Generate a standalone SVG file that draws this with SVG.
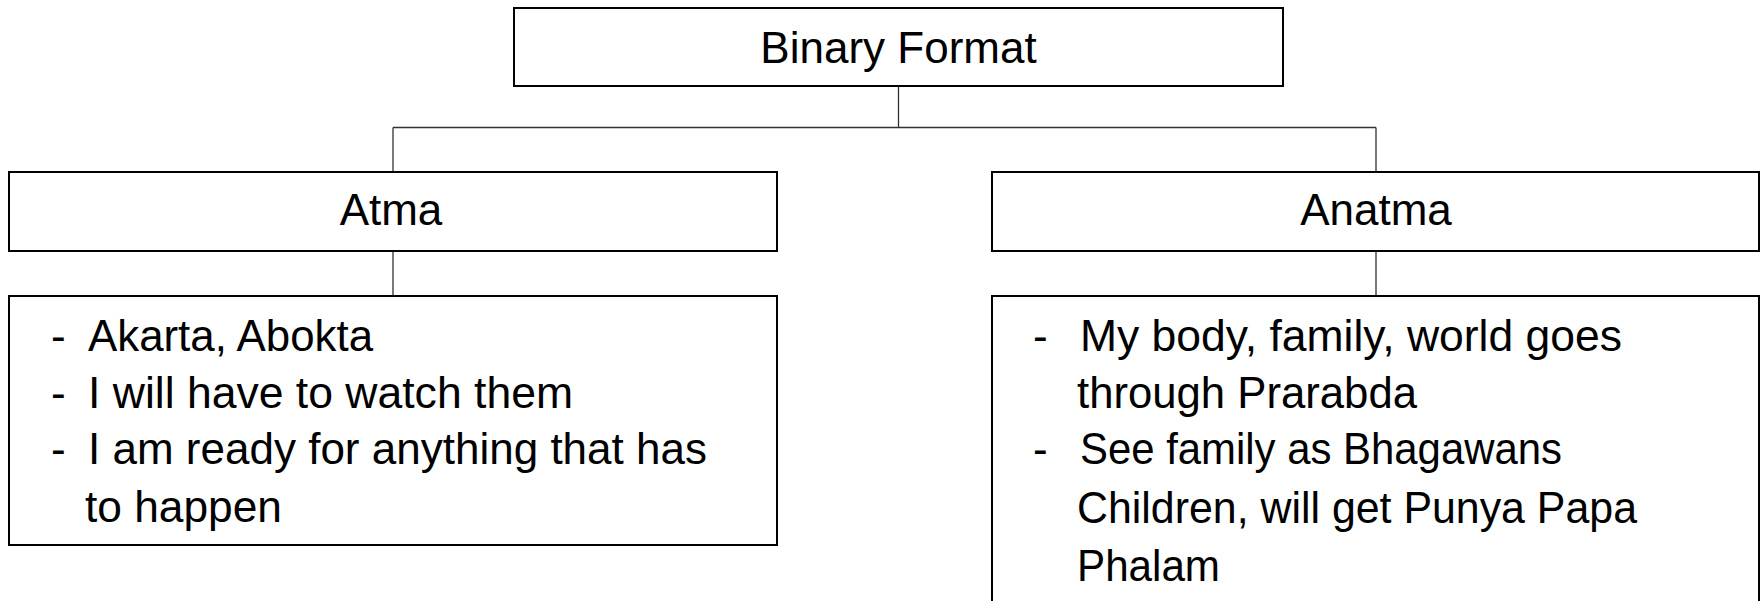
<svg xmlns="http://www.w3.org/2000/svg" width="1761" height="601" viewBox="0 0 1761 601">
<style>
.box{fill:#fff;stroke:#000;stroke-width:2}
.con{fill:none;stroke:#333;stroke-width:1.3}
text{font-family:"Liberation Sans",Arial,sans-serif;font-size:44px;fill:#000}
.c{text-anchor:middle}
</style>
<rect width="1761" height="601" fill="#fff"/>
<g id="connectors">
<path class="con" d="M898.5,86 V127.5 M393,127.5 H1376 M393,127.5 V172 M1376,127.5 V172 M393,251 V296 M1376,251 V296"/>
</g>
<g id="binary-format">
<rect class="box" x="514" y="8" width="769" height="78"/>
<text class="c" x="898.5" y="63">Binary Format</text>
</g>
<g id="atma">
<rect class="box" x="9" y="172" width="768" height="79"/>
<text class="c" x="391" y="225">Atma</text>
</g>
<g id="anatma">
<rect class="box" x="992" y="172" width="767" height="79"/>
<text class="c" x="1376" y="225">Anatma</text>
</g>
<g id="atma-details">
<rect class="box" x="9" y="296" width="768" height="249"/>
<text x="51" y="351">-</text><text x="88" y="351" textLength="285" lengthAdjust="spacingAndGlyphs">Akarta, Abokta</text>
<text x="51" y="408">-</text><text x="88" y="408" textLength="485" lengthAdjust="spacingAndGlyphs">I will have to watch them</text>
<text x="51" y="464">-</text><text x="88" y="464" textLength="619" lengthAdjust="spacingAndGlyphs">I am ready for anything that has</text>
<text x="85" y="522" textLength="197" lengthAdjust="spacingAndGlyphs">to happen</text>
</g>
<g id="anatma-details">
<rect class="box" x="992" y="296" width="767" height="320"/>
<text x="1033" y="351">-</text><text x="1080" y="351" textLength="542" lengthAdjust="spacingAndGlyphs">My body, family, world goes</text>
<text x="1077" y="408" textLength="340" lengthAdjust="spacingAndGlyphs">through Prarabda</text>
<text x="1033" y="464">-</text><text x="1080" y="464" textLength="482" lengthAdjust="spacingAndGlyphs">See family as Bhagawans</text>
<text x="1077" y="523" textLength="560" lengthAdjust="spacingAndGlyphs">Children, will get Punya Papa</text>
<text x="1077" y="581" textLength="143" lengthAdjust="spacingAndGlyphs">Phalam</text>
</g>
</svg>
